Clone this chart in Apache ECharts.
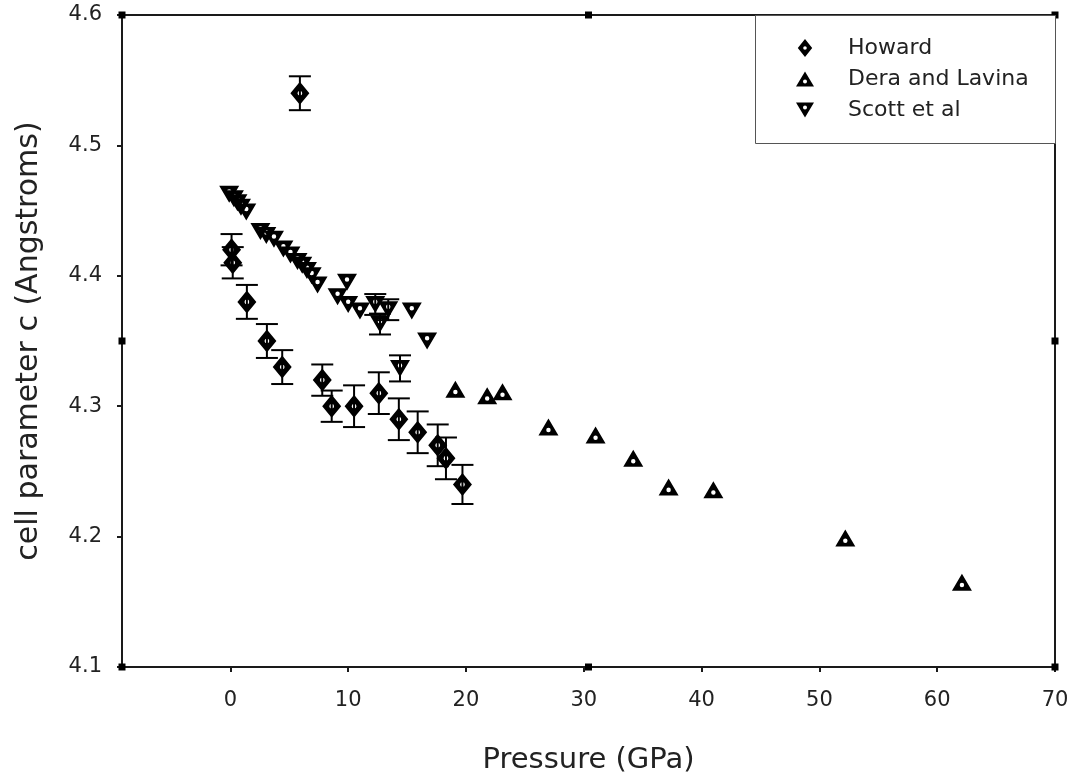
<!DOCTYPE html>
<html>
<head>
<meta charset="utf-8">
<script src="https://cdn.jsdelivr.net/npm/echarts@6/dist/echarts.min.js"></script>
<style>
  html, body { margin: 0; padding: 0; background: #fff; }
  #chart { width: 1075px; height: 780px; }
</style>
</head>
<body>
<div id="chart"></div>
<script>
// Howard: 壓力, c, 誤差
const howardX = [5.9, 0.1, 0.2, 1.4, 3.1, 4.4, 7.8, 8.6, 10.5, 12.6, 14.3, 15.9, 17.6, 18.3, 19.7]
const howardY = [4.54, 4.42, 4.41, 4.38, 4.35, 4.33, 4.32, 4.30, 4.30, 4.31, 4.29, 4.28, 4.27, 4.26, 4.24]
const howardErr = [0.013, 0.012, 0.012, 0.013, 0.013, 0.013, 0.012, 0.012, 0.016, 0.016, 0.016, 0.016, 0.016, 0.016, 0.015]

// Dera and Lavina
const deraX = [19.1, 21.8, 23.1, 27.0, 31.0, 34.2, 37.2, 41.0, 52.2, 62.1]
const deraY = [4.313, 4.308, 4.311, 4.284, 4.278, 4.260, 4.238, 4.236, 4.199, 4.165]

// Scott et al
const scottX = [-0.1, 0.3, 0.6, 0.9, 1.35, 2.55, 3.05, 3.7, 4.5, 5.1, 5.7, 6.1, 6.5, 6.9, 7.4, 9.1, 9.9, 10.0, 11.0, 12.3, 13.4, 12.7, 15.4, 16.7, 14.4]
const scottY = [4.4625, 4.459, 4.456, 4.4525, 4.449, 4.434, 4.431, 4.428, 4.4205, 4.416, 4.411, 4.408, 4.404, 4.4, 4.393, 4.384, 4.395, 4.378, 4.373, 4.378, 4.374, 4.363, 4.373, 4.35, 4.329]
const scottErr = [0, 0, 0, 0, 0, 0, 0, 0, 0, 0, 0, 0, 0, 0, 0, 0, 0, 0, 0, 0.008, 0.008, 0.008, 0, 0, 0.01]

const xTicks = [0, 10, 20, 30, 40, 50, 60, 70]
const yTicks = [4.1, 4.2, 4.3, 4.4, 4.5, 4.6]
const xMin = -9.2
const xMax = 70
const yMin = 4.1
const yMax = 4.6
// 軸框上的黑色小方塊
const frameMarks = [
  [xMin, yMax], [(xMin + xMax) / 2, yMax], [xMax, yMax], [xMax, (yMin + yMax) / 2],
  [xMax, yMin], [(xMin + xMax) / 2, yMin], [xMin, yMin], [xMin, (yMin + yMax) / 2],
]

const zip = (xs, ys) => xs.map((x, i) => [x, ys[i]])
const errData = (xs, ys, es) =>
  xs.map((x, i) => [x, ys[i] - es[i], ys[i] + es[i]]).filter((d, i) => es[i] > 0)

const font = 'DejaVu Sans, sans-serif'
const ink = '#000'

// 實心符號中間挖一個白點
const diamondSym = 'path://M0,-10L8,0L0,10L-8,0ZM0,-2A2,2,0,1,0,0,2A2,2,0,1,0,0,-2Z'
const upSym = 'path://M0,-8L9,7L-9,7ZM0,0A2,2,0,1,0,0,4A2,2,0,1,0,0,0Z'
const downSym = 'path://M-9,-7L9,-7L0,8ZM0,-4A2,2,0,1,0,0,0A2,2,0,1,0,0,-4Z'

// 誤差線
const renderError = (params, api) => {
  const lo = api.coord([api.value(0), api.value(1)])
  const hi = api.coord([api.value(0), api.value(2)])
  const half = 11
  const style = { stroke: ink, lineWidth: 2 }
  return {
    type: 'group',
    children: [
      { type: 'line', shape: { x1: lo[0], y1: lo[1], x2: hi[0], y2: hi[1] }, style },
      { type: 'line', shape: { x1: lo[0] - half, y1: lo[1], x2: lo[0] + half, y2: lo[1] }, style },
      { type: 'line', shape: { x1: hi[0] - half, y1: hi[1], x2: hi[0] + half, y2: hi[1] }, style },
    ],
  }
}

const myChart = echarts.init(document.getElementById('chart'))
const option = {
  animation: false,
  backgroundColor: '#fff',
  textStyle: { fontFamily: font },
  grid: { left: 122, right: 20, top: 15, bottom: 112, show: true, borderColor: '#1a1a1a', borderWidth: 2 },
  graphic: [
    {
      type: 'rect',
      left: 755,
      top: 15,
      shape: { width: 300, height: 128 },
      style: { fill: '#fff', stroke: '#555', lineWidth: 1 },
      z: 50,
    },
  ],
  legend: {
    orient: 'vertical',
    left: 796,
    top: 37,
    itemWidth: 18,
    itemHeight: 18,
    itemGap: 9,
    padding: 0,
    z: 60,
    textStyle: { fontSize: 22, color: '#222', fontFamily: font, padding: [0, 0, 0, 29] },
    data: ['Howard', 'Dera and Lavina', 'Scott et al'],
  },
  xAxis: {
    type: 'value',
    min: xMin,
    max: xMax,
    name: 'Pressure (GPa)',
    nameLocation: 'middle',
    nameGap: 79,
    nameTextStyle: { fontSize: 29, color: '#222' },
    axisLine: { show: true, onZero: false, lineStyle: { color: '#1a1a1a', width: 2 } },
    axisTick: { show: true, length: 5, customValues: xTicks, lineStyle: { color: '#1a1a1a', width: 2 } },
    axisLabel: { customValues: xTicks, fontSize: 21, color: '#222', margin: 23 },
    splitLine: { show: false },
  },
  yAxis: {
    type: 'value',
    min: yMin,
    max: yMax,
    name: 'cell parameter c (Angstroms)',
    nameLocation: 'middle',
    nameGap: 78,
    nameTextStyle: { fontSize: 30, color: '#222' },
    axisLine: { show: true, onZero: false, lineStyle: { color: '#1a1a1a', width: 2 } },
    axisTick: { show: true, length: 5, customValues: yTicks, lineStyle: { color: '#1a1a1a', width: 2 } },
    axisLabel: { customValues: yTicks, fontSize: 21, color: '#222', margin: 20, formatter: (v) => v.toFixed(1) },
    splitLine: { show: false },
  },
  series: [
    {
      name: 'frame',
      type: 'scatter',
      data: frameMarks,
      symbol: 'rect',
      symbolSize: 7,
      itemStyle: { color: ink, opacity: 1 },
      clip: false,
      silent: true,
      z: 5,
    },
    {
      name: 'howardErr',
      type: 'custom',
      renderItem: renderError,
      data: errData(howardX, howardY, howardErr),
      silent: true,
      z: 2,
    },
    {
      name: 'scottErr',
      type: 'custom',
      renderItem: renderError,
      data: errData(scottX, scottY, scottErr),
      silent: true,
      z: 2,
    },
    {
      name: 'Scott et al',
      type: 'scatter',
      data: zip(scottX, scottY),
      symbol: downSym,
      symbolSize: [20, 17],
      itemStyle: { color: ink, opacity: 1 },
      z: 3,
    },
    {
      name: 'Dera and Lavina',
      type: 'scatter',
      data: zip(deraX, deraY),
      symbol: upSym,
      symbolSize: [20, 17],
      itemStyle: { color: ink, opacity: 1 },
      z: 3,
    },
    {
      name: 'Howard',
      type: 'scatter',
      data: zip(howardX, howardY),
      symbol: diamondSym,
      symbolSize: [19, 23],
      itemStyle: { color: ink, opacity: 1 },
      z: 4,
    },
  ],
}
myChart.setOption(option)
</script>
</body>
</html>
